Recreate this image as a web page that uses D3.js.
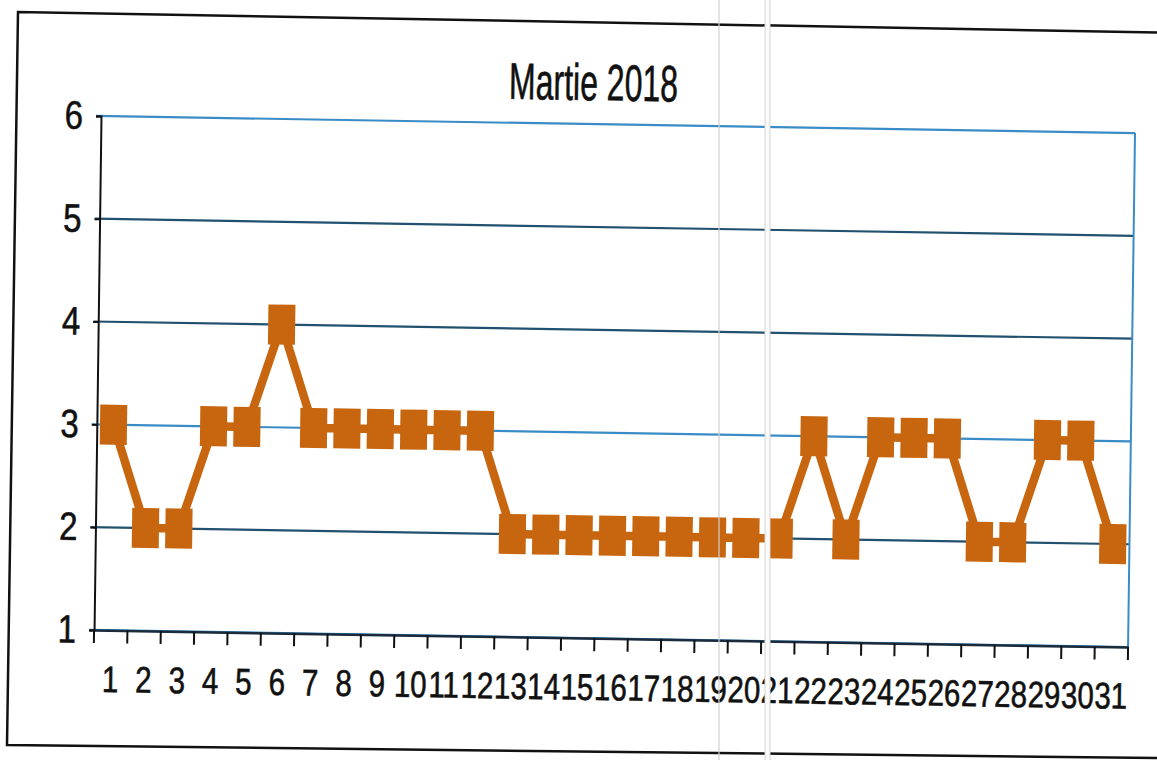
<!DOCTYPE html>
<html>
<head>
<meta charset="utf-8">
<script src="https://cdn.jsdelivr.net/npm/d3@7"></script>
<style>
  html, body { margin: 0; padding: 0; background: #ffffff; }
  svg { display: block; }
</style>
</head>
<body>
<svg id="chart" width="1157" height="760"></svg>
<script>
// ---- data ----
const title = "Martie 2018";
const days = ["1","2","3","4","5","6","7","8","9","10","11","12","13","14","15","16","17","18","19","20","21","22","23","24","25","26","27","28","29","30","31"];
const values = [3,2,2,3,3,4,3,3,3,3,3,3,2,2,2,2,2,2,2,2,2,3,2,3,3,3,2,2,3,3,2];
const yTicks = [1,2,3,4,5,6];

// ---- layout ----
const W = 1157, H = 760;
const pL = 101, pT = 116, plotW = 1034, plotH = 514;
const k1 = 0.0135, k2 = 0.0165; // scan skew (vertical lean, horizontal tilt)
const seriesColor = "#c8660f";
const gridColor = "#3a8cc6";
const gridDark = "#22506f";
const fontFam = "Liberation Sans, Arial, sans-serif";

const svg = d3.select("#chart");
svg.append("rect").attr("width", W).attr("height", H).attr("fill", "#fff");

// outer chart border (scanned, slightly skewed)
svg.append("path")
  .attr("d", "M1160,32.5 L18,12 L7,745 L1160,758")
  .attr("fill", "none").attr("stroke", "#111").attr("stroke-width", 2.5);

const g = svg.append("g")
  .attr("transform", `matrix(1,${k2},${-k1},1,${k1 * pT},${-k2 * pL})`);

const x = d3.scaleBand().domain(days).range([pL, pL + plotW]).padding(0);
const y = d3.scaleLinear().domain([1, 6]).range([pT + plotH, pT]);

// gridlines
g.append("g").selectAll("line").data(yTicks).join("line")
  .attr("x1", pL - 5).attr("x2", pL + plotW)
  .attr("y1", d => y(d)).attr("y2", d => y(d))
  .attr("stroke", (d) => (d === 2 || d === 4 || d === 5) ? gridDark : gridColor)
  .attr("stroke-width", 2.2);

// right border of plot area
g.append("line")
  .attr("x1", pL + plotW).attr("x2", pL + plotW)
  .attr("y1", pT).attr("y2", pT + plotH)
  .attr("stroke", gridColor).attr("stroke-width", 2);

// y axis
const yAxis = g.append("g").attr("transform", `translate(${pL},0)`)
  .call(d3.axisLeft(y).tickValues(yTicks).tickFormat(d3.format("d")).tickSize(5).tickPadding(13));
yAxis.select(".domain").attr("stroke", "#111").attr("stroke-width", 2);
yAxis.selectAll(".tick line").attr("stroke", "#111").attr("stroke-width", 2);
yAxis.selectAll(".tick text")
  .attr("font-family", fontFam)
  .attr("font-size", 33).attr("fill", "#111")
  .attr("stroke", "#111").attr("stroke-width", 0.5)
  .attr("transform", "scale(1,1.2)");

// x axis
const xAxis = g.append("g").attr("transform", `translate(0,${pT + plotH})`)
  .call(d3.axisBottom(x).tickSize(0).tickPadding(28.5));
xAxis.select(".domain").attr("stroke", "#1b2b3c").attr("stroke-width", 2.5);
xAxis.selectAll(".tick text")
  .attr("font-family", fontFam)
  .attr("font-size", 29.5).attr("fill", "#111")
  .attr("stroke", "#111").attr("stroke-width", 0.5)
  .attr("transform", "scale(1,1.25)");
// tick marks at category boundaries
const bounds = days.map((d) => x(d)).concat([pL + plotW]);
xAxis.append("g").selectAll("line").data(bounds).join("line")
  .attr("x1", d => d).attr("x2", d => d)
  .attr("y1", 0).attr("y2", 13)
  .attr("stroke", "#111").attr("stroke-width", 2);

// series line
const cx = d => x(d) + x.bandwidth() / 2;
const line = d3.line().x((d, i) => cx(days[i])).y(d => y(d));
g.append("path").datum(values)
  .attr("d", line)
  .attr("fill", "none").attr("stroke", seriesColor).attr("stroke-width", 8.5)
  .attr("stroke-linejoin", "round");

// markers
const mw = 27, mh = 40;
g.append("g").selectAll("rect").data(values).join("rect")
  .attr("x", (d, i) => cx(days[i]) - mw / 2)
  .attr("y", d => y(d) - mh / 2)
  .attr("width", mw).attr("height", mh)
  .attr("fill", seriesColor);

// title
g.append("text")
  .attr("transform", `translate(593,92) scale(1,1.6)`)
  .attr("text-anchor", "middle")
  .attr("font-family", fontFam)
  .attr("font-size", 32).attr("fill", "#111")
  .attr("stroke", "#111").attr("stroke-width", 0.4)
  .text(title);

// scan artefacts: faint vertical streaks
svg.append("line").attr("x1", 719).attr("x2", 719).attr("y1", 0).attr("y2", H)
  .attr("stroke", "#cfcfcf").attr("stroke-width", 1.2);
svg.append("rect").attr("x", 765).attr("y", 0).attr("width", 5).attr("height", H)
  .attr("fill", "#fbfbfb");
svg.append("line").attr("x1", 765).attr("x2", 765).attr("y1", 0).attr("y2", H)
  .attr("stroke", "#d4d4d4").attr("stroke-width", 1);
svg.append("line").attr("x1", 770).attr("x2", 770).attr("y1", 0).attr("y2", H)
  .attr("stroke", "#d4d4d4").attr("stroke-width", 1);
</script>
</body>
</html>
